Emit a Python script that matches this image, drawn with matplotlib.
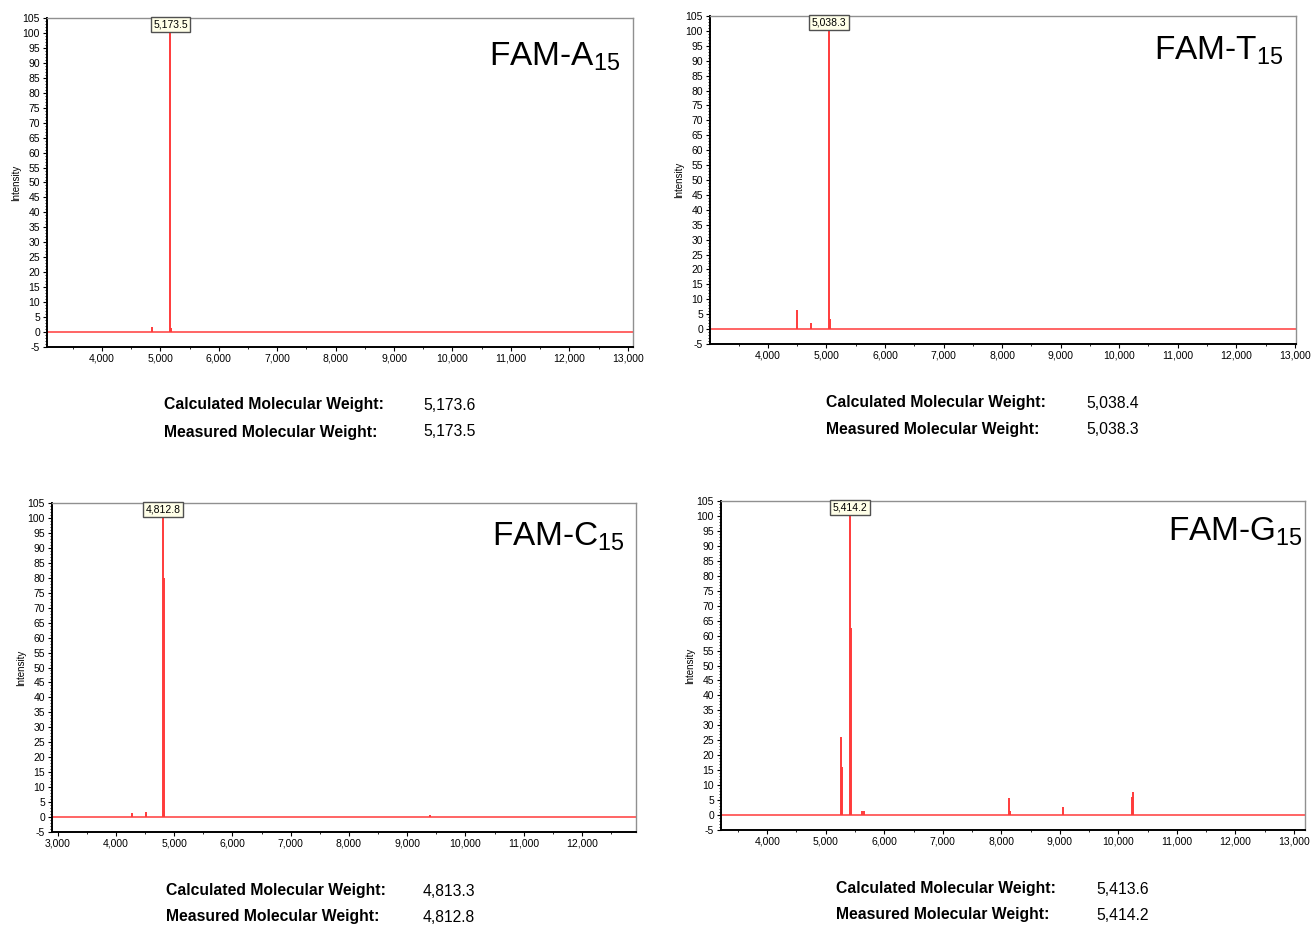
import matplotlib
matplotlib.use("Agg")
import matplotlib.pyplot as plt
from matplotlib.ticker import MultipleLocator

plt.rcParams['font.family'] = ['Liberation Sans', 'DejaVu Sans']
plt.rcParams['mathtext.fontset'] = 'custom'
plt.rcParams['mathtext.rm'] = 'Liberation Sans'
plt.rcParams['mathtext.it'] = 'Liberation Sans'
plt.rcParams['axes.unicode_minus'] = False

# ---- data ----
names = ["FAM-A", "FAM-T", "FAM-C", "FAM-G"]
peak_labels = ["5,173.5", "5,038.3", "4,812.8", "5,414.2"]
label_mz = [5173.5, 5038.3, 4812.8, 5414.2]
calc_mw = ["5,173.6", "5,038.4", "4,813.3", "5,413.6"]
meas_mw = ["5,173.5", "5,038.3", "4,812.8", "5,414.2"]

mz_A = [4865, 5173.5, 5190]
int_A = [1.7, 100, 1.5]
mz_T = [4500, 4727, 5038.3, 5052]
int_T = [6.5, 2.0, 100, 3.5]
mz_C = [4272, 4512, 4520, 4812.8, 4818, 4830, 9400]
int_C = [1.2, 1.8, 1.0, 100, 80, 2.0, 0.6]
mz_G = [5255, 5272, 5414.2, 5430, 5612, 5660, 8130, 8150, 9062, 10228, 10245]
int_G = [26, 16, 100, 62.5, 1.5, 1.5, 5.7, 1.5, 2.8, 5.9, 7.6]

mz_all = [mz_A, mz_T, mz_C, mz_G]
int_all = [int_A, int_T, int_C, int_G]
xlims = [(3060, 13090), (3010, 13020), (2900, 12930), (3210, 13190)]
xmajor_start = [4000, 4000, 3000, 4000]

# axes rectangles (pixels: left, top, right, bottom)
W, H = 1313, 927
rects_px = [(47, 18, 633, 347), (710, 16, 1296, 344), (52, 503, 636, 832), (721, 501, 1305, 830)]
title_pos = [(0.978, 0.855), (0.978, 0.866), (0.981, 0.872), (0.997, 0.881)]
mw_text_px = [(164, 405, 423, 432), (826, 403, 1086, 430), (166, 891, 423, 917), (836, 889, 1096, 915)]

fig = plt.figure(figsize=(W / 100, H / 100), dpi=100)
fig.patch.set_facecolor('white')

red = '#ff3b3b'

for i in range(4):
    l, t, r, b = rects_px[i]
    ax = fig.add_axes([l / W, 1 - b / H, (r - l) / W, (b - t) / H])
    ax.axhline(0, color=red, lw=1.3, alpha=0.85, zorder=2)
    ax.vlines(mz_all[i], 0, int_all[i], color=red, lw=1.4, zorder=3)
    ax.yaxis.set_minor_locator(MultipleLocator(1))
    ax.xaxis.set_minor_locator(MultipleLocator(500))
    ax.tick_params(axis='both', which='major', labelsize=7.5, length=3, width=0.8, direction='out', pad=2)
    ax.tick_params(axis='both', which='minor', length=1.5, width=0.6, direction='out')
    xt = [v for v in range(xmajor_start[i], 13001, 1000) if xlims[i][0] <= v <= xlims[i][1] + 60]
    ax.set_xticks(xt)
    ax.set_xticklabels([f"{v:,}" for v in xt])
    ax.set_yticks(range(-5, 106, 5))
    ax.set_xlim(*xlims[i])
    ax.set_ylim(-5, 105)
    for s in ['left', 'bottom']:
        ax.spines[s].set_color('black')
        ax.spines[s].set_linewidth(1.4)
    for s in ['top', 'right']:
        ax.spines[s].set_color('#909090')
        ax.spines[s].set_linewidth(1.0)
    ax.set_ylabel("Intensity", fontsize=7, labelpad=1)
    # peak label
    ax.annotate(peak_labels[i], xy=(label_mz[i], 100), xytext=(0, 2.5), textcoords='offset points',
                ha='center', va='bottom', fontsize=7.5,
                bbox=dict(boxstyle='square,pad=0.25', fc='#ffffe8', ec='#505050', lw=1.0), zorder=5)
    ax.text(title_pos[i][0], title_pos[i][1], names[i] + r"$_{\mathregular{15}}$",
            transform=ax.transAxes, ha='right', va='baseline', fontsize=24, color='black')
    # MW texts
    x1, y1, x2, y2 = mw_text_px[i]
    fig.text(x1 / W, 1 - y1 / H, "Calculated Molecular Weight:", fontsize=11.3, fontweight='bold', va='center', ha='left')
    fig.text(x2 / W, 1 - y1 / H, calc_mw[i], fontsize=11.3, va='center', ha='left')
    fig.text(x1 / W, 1 - y2 / H, "Measured Molecular Weight:", fontsize=11.3, fontweight='bold', va='center', ha='left')
    fig.text(x2 / W, 1 - y2 / H, meas_mw[i], fontsize=11.3, va='center', ha='left')

fig.savefig("out.png", dpi=100)
